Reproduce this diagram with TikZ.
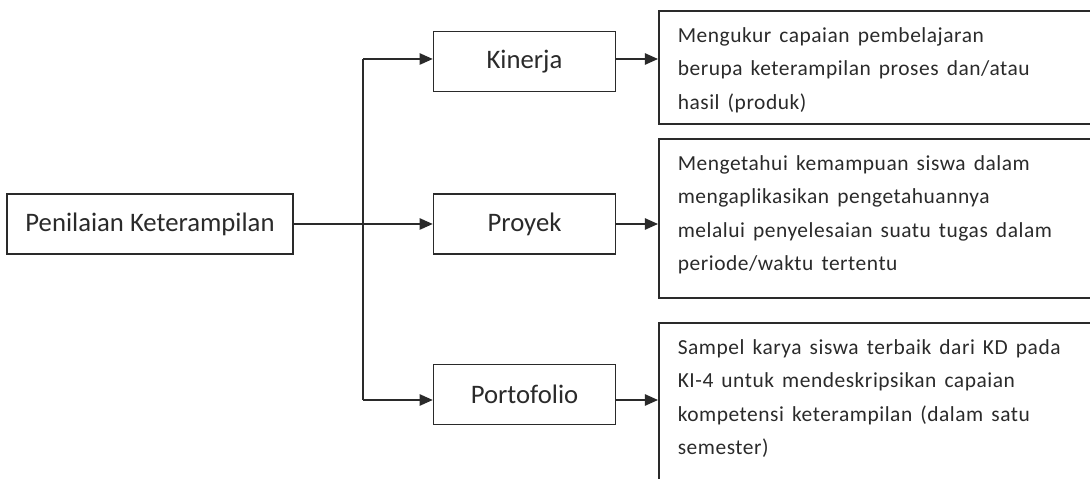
\documentclass[tikz,border=0pt]{standalone}
\usepackage{fontspec}
\setmainfont{Carlito}
\newfontfamily\descfont{Carlito}[LetterSpace=2.5, WordSpace=1.5]
\usetikzlibrary{arrows.meta, positioning}
\definecolor{linegray}{HTML}{2A2A2A}
\newcommand{\desctext}[2]{\parbox[t][#1][t]{8.4cm}{\raggedright #2}}

\begin{document}
\begin{tikzpicture}[x=0.02cm,y=-0.02cm,node distance=2.78cm,box/.style={rectangle, draw=linegray, line width=0.9pt, minimum width=3.64cm, minimum height=1.2cm, align=center, text=linegray, font=\fontsize{15.2}{17}\selectfont},descbox/.style={rectangle, draw=linegray, line width=0.9pt, anchor=north west, inner xsep=0.38cm, inner ysep=0.34cm, text=linegray, font=\descfont\fontsize{12.2}{18.9}\selectfont},line/.style={draw=linegray, line width=0.9pt},arrow/.style={-{Triangle[length=7.5pt,width=6.5pt]}, line width=0.9pt, draw=linegray, fill=linegray}]
\useasboundingbox (0,0) rectangle (1090,479);
\node[box, minimum width=5.72cm] (pk) at (150,224) {Penilaian Keterampilan};
\node[box, right=of pk] (pro) {Proyek};
\node[box, above=2.02cm of pro] (kin) {Kinerja};
\node[box, below=2.18cm of pro] (por) {Portofolio};
\node[descbox] (d1) at (658,10) {\desctext{1.58cm}{Mengukur capaian pembelajaran\\berupa keterampilan proses dan/atau\\hasil (produk)}};
\node[descbox] (d2) at (658,138) {\desctext{2.5cm}{Mengetahui kemampuan siswa dalam\\mengaplikasikan pengetahuannya\\melalui penyelesaian suatu tugas dalam\\periode/waktu tertentu}};
\node[descbox] (d3) at (658,322) {\desctext{4cm}{Sampel karya siswa terbaik dari KD pada\\KI-4 untuk mendeskripsikan capaian\\kompetensi keterampilan (dalam satu\\semester)}};
\coordinate (trunktop) at (363,59);
\coordinate (trunkbot) at (363,400);
\draw[line] (trunktop) -- (trunkbot);
\draw[arrow] (pk) -- (pro);
\draw[arrow] (trunktop) -- (trunktop -| kin.west);
\draw[arrow] (trunkbot) -- (trunkbot -| por.west);
\draw[arrow] (trunktop -| kin.east) -- (trunktop -| d1.west);
\draw[arrow] (pro.east) -- (pro.east -| d2.west);
\draw[arrow] (trunkbot -| por.east) -- (trunkbot -| d3.west);
\end{tikzpicture}
\end{document}
